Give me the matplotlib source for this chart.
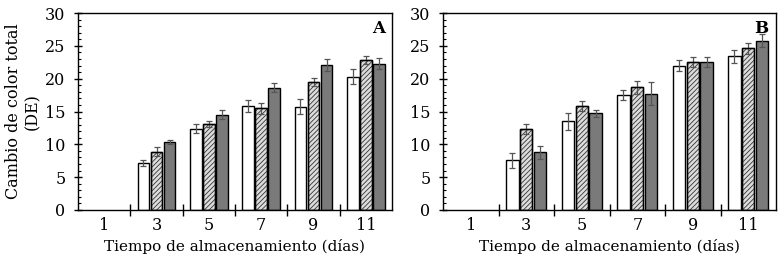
import matplotlib
matplotlib.use("Agg")
import matplotlib.pyplot as plt
import numpy as np

days = ["1", "3", "5", "7", "9", "11"]

# Panel A
a_white = [0, 7.1, 12.4, 15.9, 15.7, 20.3]
a_white_err = [0, 0.45, 0.75, 0.9, 1.15, 1.1]
a_hatch = [0, 8.9, 13.1, 15.5, 19.5, 22.85]
a_hatch_err = [0, 0.7, 0.5, 0.85, 0.65, 0.65]
a_dark = [0, 10.35, 14.5, 18.65, 22.1, 22.25]
a_dark_err = [0, 0.35, 0.7, 0.7, 0.9, 0.85]

# Panel B
b_white = [0, 7.6, 13.5, 17.55, 22.0, 23.4]
b_white_err = [0, 1.15, 1.3, 0.8, 0.8, 1.0]
b_hatch = [0, 12.3, 15.85, 18.7, 22.5, 24.6]
b_hatch_err = [0, 0.75, 0.8, 1.0, 0.75, 0.9]
b_dark = [0, 8.8, 14.7, 17.7, 22.5, 25.8]
b_dark_err = [0, 1.0, 0.55, 1.75, 0.75, 1.0]

plt.rcParams['font.family'] = ['DejaVu Serif']
plt.rcParams['hatch.linewidth'] = 0.6

fig = plt.figure(figsize=(7.82, 2.6), dpi=100)
axA = fig.add_axes([78/782, 1-210/260, (392-78)/782, (210-13)/260])
axB = fig.add_axes([443/782, 1-210/260, (776-443)/782, (210-13)/260])

def draw(ax, white, we, hatch, he, dark, de, label, ylabel):
    x = np.arange(len(days)) + 0.5
    w = 0.225
    off = 0.25
    ekw = dict(ecolor='#555555', elinewidth=0.9, capsize=2.2, capthick=0.9)
    mask = np.array(white) > 0
    xs = x[mask]
    ax.bar(xs - off, np.array(white)[mask], w, yerr=np.array(we)[mask], color='white',
           edgecolor='black', linewidth=1.0, error_kw=ekw, zorder=2)
    ax.bar(xs, np.array(hatch)[mask], w, yerr=np.array(he)[mask], color='#dcdcdc',
           edgecolor='#333333', hatch='///////', linewidth=1.0, error_kw=ekw, zorder=2)
    ax.bar(xs, np.array(hatch)[mask], w, color='none', edgecolor='black', linewidth=1.0, zorder=3)
    ax.bar(xs + off, np.array(dark)[mask], w, yerr=np.array(de)[mask], color='#7a7a7a',
           edgecolor='black', linewidth=1.0, error_kw=ekw, zorder=2)
    ax.set_xlim(0, len(days))
    ax.set_ylim(0, 30)
    ax.set_xticks(x)
    ax.set_xticklabels(days)
    ax.set_xticks(np.arange(1, len(days)), minor=True)
    ax.tick_params(axis='x', which='major', length=0, pad=5, labelsize=11.5)
    ax.tick_params(axis='x', which='minor', direction='inout', length=8, width=1)
    ax.set_yticks(np.arange(0, 31, 5))
    ax.set_yticks(np.arange(0, 31, 1), minor=True)
    ax.tick_params(axis='y', which='major', direction='inout', length=6, width=1, labelsize=11.5, pad=6)
    ax.tick_params(axis='y', which='minor', direction='in', length=2.5, width=0.8)
    for s in ax.spines.values():
        s.set_linewidth(1.0)
    ax.set_xlabel('Tiempo de almacenamiento (días)', fontsize=11, labelpad=4)
    if ylabel:
        ax.set_ylabel('Cambio de color total\n(DE)', fontsize=11.5, labelpad=3, linespacing=1.15)
    ax.text(0.978, 0.965, label, transform=ax.transAxes, ha='right', va='top',
            fontsize=12, fontweight='bold')

draw(axA, a_white, a_white_err, a_hatch, a_hatch_err, a_dark, a_dark_err, 'A', True)
draw(axB, b_white, b_white_err, b_hatch, b_hatch_err, b_dark, b_dark_err, 'B', False)

fig.savefig('out.png', dpi=100)
